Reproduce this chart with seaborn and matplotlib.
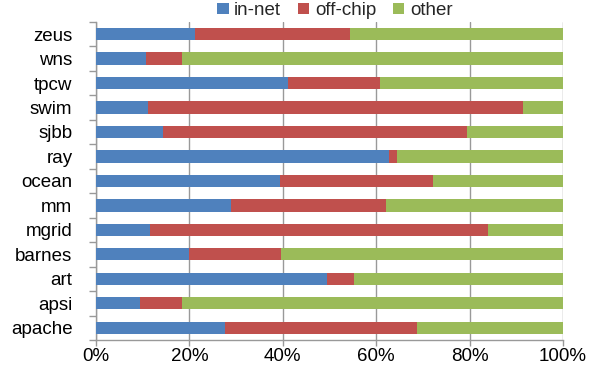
import matplotlib
matplotlib.use("Agg")
import matplotlib.pyplot as plt
import seaborn as sns
import pandas as pd
import numpy as np
from matplotlib.ticker import FuncFormatter, FixedLocator
from matplotlib.patches import Patch

categories = ["zeus", "wns", "tpcw", "swim", "sjbb", "ray", "ocean",
              "mm", "mgrid", "barnes", "art", "apsi", "apache"]
in_net = [21.1, 10.6, 41.1, 11.1, 14.3, 62.8, 39.3, 28.8, 11.6, 19.8, 49.5, 9.3, 27.5]
off_chip = [33.2, 7.7, 19.7, 80.3, 65.1, 1.6, 32.8, 33.3, 72.4, 19.9, 5.7, 9.2, 41.2]
other = [45.7, 81.7, 39.2, 8.6, 20.6, 35.6, 27.9, 37.9, 16.0, 60.3, 44.8, 81.5, 31.3]
series = ["in-net", "off-chip", "other"]
colors = ["#4F81BD", "#C0504D", "#9BBB59"]

sns.set_theme(style="white")
plt.rcParams['font.family'] = ['Liberation Sans', 'DejaVu Sans']

df = pd.DataFrame({"cat": categories, "in-net": in_net,
                   "off-chip": off_chip, "other": other})
df["c1"] = df["in-net"]
df["c2"] = df["in-net"] + df["off-chip"]
df["c3"] = df["c2"] + df["other"]

fig = plt.figure(figsize=(5.97, 3.70), dpi=100)
ax = fig.add_axes([0.161, 0.081, 0.782, 0.86])

for col, c in zip(["c3", "c2", "c1"], colors[::-1]):
    sns.barplot(data=df, x=col, y="cat", order=categories, color=c,
                width=0.5, ax=ax, saturation=1, zorder=3, linewidth=0)

ax.set_xlim(0, 100)
ax.set_ylim(len(categories) - 0.5, -0.5)
ax.set_xlabel("")
ax.set_ylabel("")
ax.xaxis.set_major_locator(FixedLocator([0, 20, 40, 60, 80, 100]))
ax.xaxis.set_major_formatter(FuncFormatter(lambda v, p: f"{int(v)}%"))
ax.grid(axis="x", color="#999999", linewidth=1.0, zorder=0)
ax.set_axisbelow(True)

for s in ["top", "right"]:
    ax.spines[s].set_visible(False)
for s in ["left", "bottom"]:
    ax.spines[s].set_color("#999999")
    ax.spines[s].set_linewidth(1.0)

ax.set_yticks(np.arange(len(categories)))
ax.set_yticklabels(categories)
ax.set_yticks(np.arange(len(categories) + 1) - 0.5, minor=True)
ax.tick_params(axis="y", which="major", length=0, pad=17, labelsize=13.5, colors="black")
ax.tick_params(axis="y", which="minor", length=5, color="#999999", width=1, direction="out", left=True)
ax.tick_params(axis="x", which="major", length=4, color="#999999", width=1, direction="out",
               labelsize=13.5, colors="black", pad=2, bottom=True)
for lab in ax.get_xticklabels() + ax.get_yticklabels():
    lab.set_color("black")

handles = [Patch(facecolor=c, edgecolor="none") for c in colors]
fig.legend(handles, series, loc="upper center", bbox_to_anchor=(0.561, 1.04), ncol=3,
           frameon=False, fontsize=13.5, handlelength=0.6, handleheight=0.6,
           handletextpad=0.3, columnspacing=0.9)

fig.savefig("out.png", dpi=100)
